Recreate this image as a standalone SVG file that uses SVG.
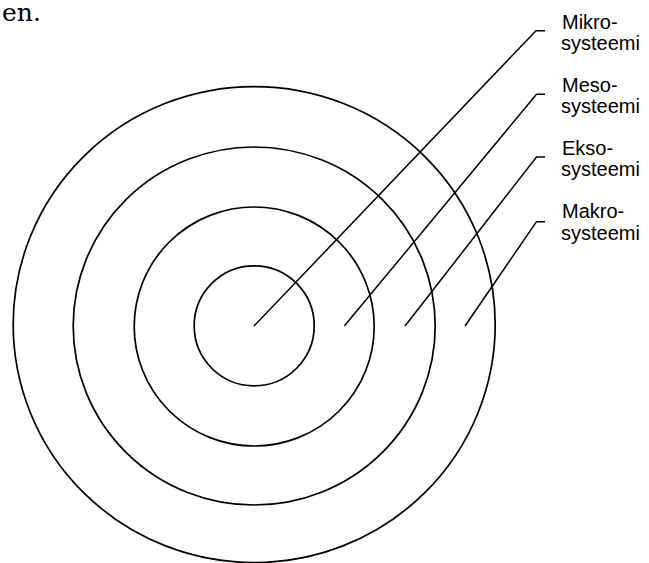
<svg xmlns="http://www.w3.org/2000/svg" width="649" height="563" viewBox="0 0 649 563">
<style>
.ring{fill:none;stroke:#000;stroke-width:1.7}
.lead{fill:none;stroke:#000;stroke-width:1.5}
.lbl{font-family:"Liberation Sans",Arial,sans-serif;font-size:20px;fill:#000}
.body{font-family:"DejaVu Serif",serif;font-size:25px;fill:#000}
</style>
<rect width="649" height="563" fill="#fff"/>
<text class="body" x="2" y="21">en.</text>
<g id="makro-ring"><ellipse class="ring" cx="254.2" cy="324.6" rx="241" ry="238"/></g>
<g id="ekso-ring"><ellipse class="ring" cx="254.2" cy="326" rx="181" ry="179"/></g>
<g id="meso-ring"><ellipse class="ring" cx="254.2" cy="326.5" rx="120" ry="119.5"/></g>
<g id="mikro-ring"><ellipse class="ring" cx="254.2" cy="325.8" rx="60" ry="60"/></g>
<g id="connectors">
<polyline class="lead" points="254,326 536,30.7 545,30.7"/>
<polyline class="lead" points="344.3,326 536.5,94.3 545,94.3"/>
<polyline class="lead" points="405,326 536.5,157 545,157"/>
<polyline class="lead" points="465,326 536.5,221.7 545,221.7"/>
</g>
<g id="label-mikro"><text class="lbl" x="562" y="29">Mikro-</text><text class="lbl" x="561" y="50">systeemi</text></g>
<g id="label-meso"><text class="lbl" x="562" y="92">Meso-</text><text class="lbl" x="561" y="113">systeemi</text></g>
<g id="label-ekso"><text class="lbl" x="562" y="155">Ekso-</text><text class="lbl" x="561" y="176">systeemi</text></g>
<g id="label-makro"><text class="lbl" x="562" y="218">Makro-</text><text class="lbl" x="561" y="240">systeemi</text></g>
</svg>
